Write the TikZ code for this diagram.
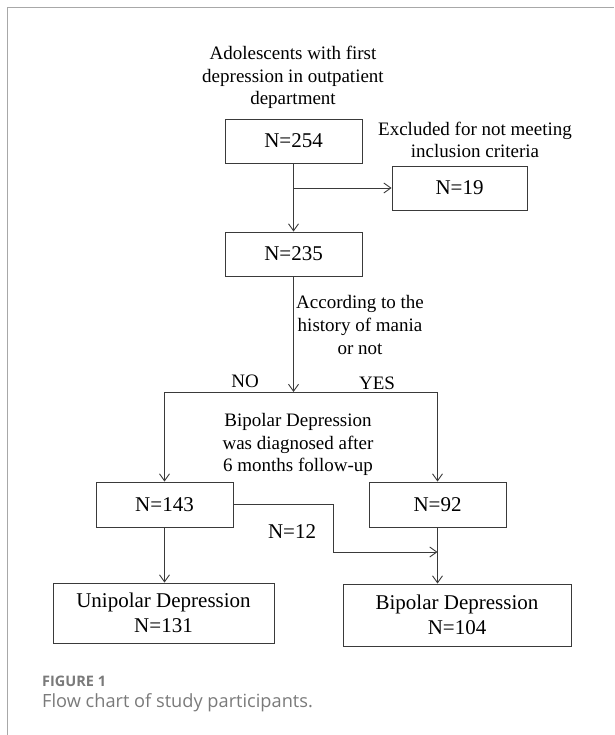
\documentclass[tikz,border=0pt]{standalone}
\usepackage{fontspec}
\setmainfont{Liberation Serif}
\newfontfamily\capfont{Open Sans}
\usetikzlibrary{arrows.meta}
\definecolor{linegray}{HTML}{3A3A3A}
\definecolor{framegray}{HTML}{A8A8A8}
\definecolor{capgray}{HTML}{7A7A7A}
\tikzset{
  box/.style={draw=linegray, line width=0.9pt, minimum width=137pt, minimum height=44pt,
    inner sep=0pt, align=center, font=\fontsize{21}{25}\selectfont},
  lbl/.style={inner sep=0pt, align=center, font=\fontsize{19}{22.8}\selectfont},
  flow/.style={draw=linegray, line width=0.9pt, -{Straight Barb[length=7pt,width=10pt]}},
  link/.style={draw=linegray, line width=0.9pt},
  capnote/.style={anchor=west, inner sep=0pt, text=capgray},
}

\begin{document}
\begin{tikzpicture}[x=1pt, y=-1pt]
    \useasboundingbox (0,0) rectangle (614,735);
    \draw[framegray, line width=1pt] (7,735) -- (7,8) -- (614,8);

    \node[lbl] (title) at (293,77.5) {Adolescents with first\\depression in outpatient\\department};
    \node[box] (n254) at (293.5,141) {N=254};
    \node[lbl] (excl) at (475,140) {Excluded for not meeting\\inclusion criteria};
    \node[box, minimum width=135pt] (n19) at (459.5,188) {N=19};
    \node[box] (n235) at (293.5,254) {N=235};
    \node[lbl] (hist) at (360,325) {According to the\\history of mania\\or not};
    \node[lbl] (no) at (245,381) {NO};
    \node[lbl] (yes) at (377,383) {YES};
    \node[lbl] (diag) at (298,444.5) {Bipolar Depression\\was diagnosed after\\6 months follow-up};
    \node[box, minimum height=45pt] (n143) at (164.5,504.5) {N=143};
    \node[box, minimum height=45pt] (n92) at (437.5,504.5) {N=92};
    \node[lbl, font=\fontsize{21}{25}\selectfont] (n12) at (292,532) {N=12};
    \node[box, minimum width=221pt, minimum height=60pt] (uni) at (163.5,613) {Unipolar Depression\\N=131};
    \node[box, minimum width=228pt, minimum height=62pt] (bi) at (457,615) {Bipolar Depression\\N=104};

    \coordinate (fork) at (293.5,392);
    \coordinate (merge) at (437.5,552);

    \draw[flow] (n254) -- (n235);
    \draw[flow] (n254.south |- n19.west) -- (n19.west);
    \draw[flow] (n235) -- (fork);
    \draw[link] (n143 |- fork) -- (n92 |- fork);
    \draw[flow] (n143 |- fork) -- (n143.north);
    \draw[flow] (n92 |- fork) -- (n92.north);
    \draw[flow] (n143.south) -- (n143.south |- uni.north);
    \draw[flow] (n92.south) -- (n92.south |- bi.north);
    \draw[flow] (n143.east) -- ++(100,0) |- (merge);

    \node[capnote, font=\capfont\bfseries\fontsize{14.5}{17}\selectfont] (fig) at (42,681) {FIGURE 1};
    \node[capnote, font=\capfont\fontsize{18.2}{21}\selectfont] (caption) at (42,703) {Flow chart of study participants.};
\end{tikzpicture}
\end{document}
